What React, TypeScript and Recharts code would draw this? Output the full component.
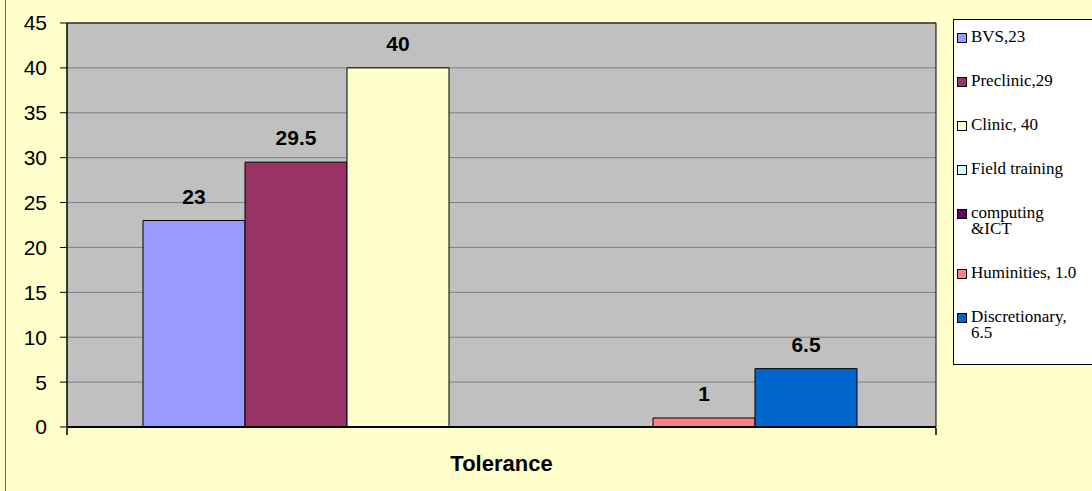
import React from "react";
import {
  BarChart,
  Bar,
  XAxis,
  YAxis,
  CartesianGrid,
  LabelList,
  ReferenceArea,
} from "recharts";

const categories = ["Tolerance"];

const SERIES = [
  { key: "bvs", label: "BVS,23", color: "#9999FF" },
  { key: "preclinic", label: "Preclinic,29", color: "#993366" },
  { key: "clinic", label: "Clinic, 40", color: "#FFFFCC" },
  { key: "field", label: "Field training", color: "#CCFFFF" },
  { key: "computing", label: "computing\n&ICT", color: "#660066" },
  { key: "humanities", label: "Huminities, 1.0", color: "#FF8080" },
  { key: "discretionary", label: "Discretionary,\n6.5", color: "#0066CC" },
];

const bvs = [23];
const preclinic = [29.5];
const clinic = [40];
const field = [0];
const computing = [0];
const humanities = [1];
const discretionary = [6.5];

const yTicks = [0, 5, 10, 15, 20, 25, 30, 35, 40, 45];
// ticks at the two ends of the category axis (Excel style)
const edgeTicks = [0, 1];

const data = categories.map((name, i) => ({
  name,
  edge: 0.5,
  bvs: bvs[i],
  preclinic: preclinic[i],
  clinic: clinic[i],
  field: field[i],
  computing: computing[i],
  humanities: humanities[i],
  discretionary: discretionary[i],
}));

const sans = "'Liberation Sans', Arial, sans-serif";
const serif = "'Liberation Serif', 'Times New Roman', serif";

function CategoryTick(props: any) {
  const { x, y, payload } = props;
  return (
    <text
      x={x}
      y={y + 36}
      textAnchor="middle"
      fontFamily={sans}
      fontSize={22}
      fontWeight="bold"
      fill="#000"
    >
      {payload.value}
    </text>
  );
}

function EmptyTick() {
  return <g />;
}

function LegendBox() {
  return (
    <div
      style={{
        position: "absolute",
        left: 953,
        top: 19,
        width: 145,
        height: 346,
        boxSizing: "border-box",
        background: "#fff",
        border: "1px solid #000",
        paddingTop: 9,
        paddingLeft: 3,
        fontFamily: serif,
        fontSize: 17,
        color: "#000",
      }}
    >
      {SERIES.map((s) => (
        <div
          key={s.key}
          style={{ display: "flex", lineHeight: "16px", marginBottom: 28 }}
        >
          <span
            style={{
              display: "inline-block",
              width: 8,
              height: 8,
              marginTop: 4,
              marginRight: 4,
              flexShrink: 0,
              background: s.color,
              border: "1px solid #000",
            }}
          />
          <span style={{ whiteSpace: "pre" }}>{s.label}</span>
        </div>
      ))}
    </div>
  );
}

export default function App() {
  return (
    <div
      style={{
        position: "absolute",
        left: 0,
        top: 0,
        width: 1092,
        height: 491,
        background: "#FFFFCC",
        overflow: "hidden",
      }}
    >
      <div
        style={{
          position: "absolute",
          left: 5,
          top: 0,
          width: 0,
          height: 491,
          borderLeft: "1px solid #666",
        }}
      />
      <BarChart
        width={1092}
        height={491}
        data={data}
        margin={{ top: 23, right: 156, left: 7, bottom: 62 }}
        barCategoryGap={76}
        barGap={0}
      >
        <CartesianGrid
          vertical={false}
          stroke="#808080"
          fill="#C0C0C0"
          fillOpacity={1}
        />
        <ReferenceArea
          y1={0}
          y2={45}
          fill="none"
          stroke="#000"
          strokeWidth={1}
        />
        <XAxis
          dataKey="name"
          height={1}
          tick={<CategoryTick />}
          tickLine={false}
          axisLine={{ stroke: "#000", strokeWidth: 2 }}
          interval={0}
        />
        <XAxis
          xAxisId="edge"
          dataKey="edge"
          type="number"
          scale="linear"
          domain={[0, 1]}
          allowDataOverflow
          ticks={edgeTicks}
          interval={0}
          height={1}
          tick={<EmptyTick />}
          tickSize={7}
          tickLine={{ stroke: "#000", strokeWidth: 1.5 }}
          axisLine={false}
        />
        <YAxis
          width={60}
          domain={[0, 45]}
          ticks={yTicks}
          interval={0}
          tickSize={7}
          tickMargin={13}
          tick={{ fontFamily: sans, fontSize: 21, fill: "#000" }}
          tickLine={{ stroke: "#000" }}
          axisLine={{ stroke: "#000" }}
        />
        {SERIES.map((s) => (
          <Bar
            key={s.key}
            dataKey={s.key}
            name={s.label}
            fill={s.color}
            stroke="#000"
            strokeWidth={1}
            isAnimationActive={false}
          >
            <LabelList
              dataKey={s.key}
              position="top"
              offset={17}
              formatter={(v: any) => (v === 0 ? "" : v)}
              style={{
                fontFamily: sans,
                fontSize: 21,
                fontWeight: "bold",
                fill: "#000",
              }}
            />
          </Bar>
        ))}
      </BarChart>
      <LegendBox />
    </div>
  );
}
